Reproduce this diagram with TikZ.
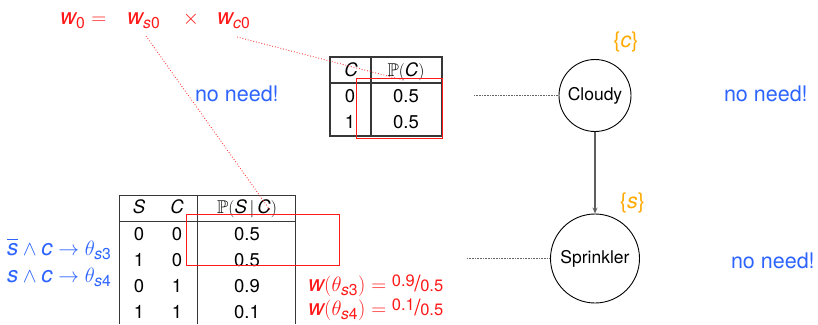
\documentclass[tikz,border=0pt]{standalone}
\usepackage{amsmath,amssymb}
\usepackage{fontspec}
\setmainfont{TeX Gyre Heros}
\usetikzlibrary{arrows.meta}
\definecolor{myred}{RGB}{255,25,25}
\definecolor{myblue}{RGB}{45,100,255}
\definecolor{myorange}{RGB}{255,170,0}
\definecolor{tblgray}{RGB}{55,55,55}
\definecolor{arrgray}{RGB}{95,95,95}
\newcommand{\itv}[1]{\textit{#1}}
\newcommand{\nfr}[2]{\raisebox{0.45ex}{\fontsize{16.5}{18}\selectfont #1}\kern-0.02em/\kern-0.02em{\fontsize{16.5}{18}\selectfont #2}}
\tikzset{
  txt/.style={inner sep=0pt, outer sep=0pt, anchor=base},
  bigfont/.style={font=\fontsize{21.5}{25}\selectfont},
  mathfont/.style={font=\fontsize{22.5}{26}\selectfont},
  tabfont/.style={font=\fontsize{18.5}{22}\selectfont},
  circfont/.style={font=\fontsize{17.5}{20}\selectfont},
  tbl/.style={draw=tblgray, line width=1.1pt},
  hilite/.style={draw=myred, line width=1pt},
  reddots/.style={draw=myred, dotted, line width=0.8pt},
  graydots/.style={draw=black!60, densely dotted, line width=0.6pt},
  bnode/.style={circle, draw=black, line width=0.9pt, inner sep=0pt, circfont},
  edge/.style={draw=arrgray, line width=1.3pt, -{Stealth[length=6pt,width=5pt]}},
}
\begin{document}
\begin{tikzpicture}[x=1pt,y=-1pt]
\useasboundingbox (0,0) rectangle (818,324);

% top formula
\node[txt, anchor=base west, mathfont, text=myred] (w0) at (60,24) {$\itv{w}_{\text{0}} =$};
\node[txt, anchor=base west, mathfont, text=myred] (ws0) at (127,24) {$\itv{w}_{\itv{s}\text{0}}$};
\node[txt, anchor=base, mathfont, text=myred] (times) at (191,24) {$\times$};
\node[txt, anchor=base west, mathfont, text=myred] (wc0) at (217,24) {$\itv{w}_{\itv{c}\text{0}}$};

% no need labels
\node[txt, anchor=base west, bigfont, text=myblue] (nn1) at (195,101.5) {no need!};
\node[txt, anchor=base west, bigfont, text=myblue] (nn2) at (724,101.5) {no need!};
\node[txt, anchor=base west, bigfont, text=myblue] (nn3) at (731,268) {no need!};

% C table
\draw[tbl] (330,57) rectangle (442,136);
\draw[tbl] (330,83) -- (442,83);
\draw[tbl] (371,57) -- (371,136);
\node[txt, tabfont] (ch) at (351,76) {$\itv{C}$};
\node[txt, tabfont] (pch) at (406,76) {$\mathbb{P}(\itv{C})$};
\node[txt, tabfont] (c0) at (350,102) {0};
\node[txt, tabfont] (c1) at (350,128) {1};
\node[txt, tabfont] (pc0) at (406,102) {0.5};
\node[txt, tabfont] (pc1) at (406,128) {0.5};
\draw[hilite] (356.7,78) rectangle (442,138.3);

% S table
\draw[tbl] (119.3,324) -- (119.3,195.7) -- (295.3,195.7) -- (295.3,324);
\draw[tbl] (119.3,221.7) -- (295.3,221.7);
\draw[tbl] (197.7,195.7) -- (197.7,324);
\node[txt, tabfont] (sh) at (139,213) {$\itv{S}$};
\node[txt, tabfont] (sch) at (177,213) {$\itv{C}$};
\node[txt, tabfont] (psh) at (247,213) {$\mathbb{P}(\itv{S}\,|\,\itv{C})$};
\foreach \s/\c/\p/\y/\n in {0/0/0.5/240.5/a, 1/0/0.5/266.5/b, 0/1/0.9/292.5/c, 1/1/0.1/318.5/d}{
  \node[txt, tabfont] (s\n) at (139,\y) {\s};
  \node[txt, tabfont] (sc\n) at (177,\y) {\c};
  \node[txt, tabfont] (ps\n) at (247,\y) {\p};
}
\draw[hilite] (186,214.3) rectangle (339.3,265.3);

% left blue rules
\node[txt, anchor=base west, mathfont, text=myblue] (r3) at (7,255) {$\overline{\itv{s}}\wedge \itv{c}\rightarrow \theta_{\itv{s}\text{3}}$};
\node[txt, anchor=base west, mathfont, text=myblue] (r4) at (7,282) {$\itv{s}\wedge \itv{c}\rightarrow \theta_{\itv{s}\text{4}}$};

% right red weights
\node[txt, anchor=base west, mathfont, text=myred] (wt3) at (308,291.5) {$\itv{w}(\theta_{\itv{s}\text{3}}) = \text{\nfr{0.9}{0.5}}$};
\node[txt, anchor=base west, mathfont, text=myred] (wt4) at (308,315.5) {$\itv{w}(\theta_{\itv{s}\text{4}}) = \text{\nfr{0.1}{0.5}}$};

% Bayesian network
\node[bnode, minimum size=72pt] (cloudy) at (595,95.5) {Cloudy};
\node[bnode, minimum size=89pt] (sprinkler) at (595,258.5) {Sprinkler};
\draw[edge] (cloudy) -- (sprinkler);
\node[txt, anchor=center, bigfont, text=myorange] (cset) at (626,42) {\{\itv{c}\}};
\node[txt, anchor=center, bigfont, text=myorange] (sset) at (632.5,203) {\{\itv{s}\}};

% dotted links
\coordinate (d1) at (474,95.5);
\coordinate (d2) at (467,258.5);
\draw[graydots] (d1) -- (cloudy.west);
\draw[graydots] (d2) -- (sprinkler.west);

\coordinate (ws0foot) at (146,36);
\coordinate (psfoot) at (270,210);
\coordinate (wc0foot) at (237,37);
\coordinate (pcfoot) at (403,80);
\draw[reddots] (ws0foot) -- (psfoot);
\draw[reddots] (wc0foot) -- (pcfoot);
\end{tikzpicture}
\end{document}
